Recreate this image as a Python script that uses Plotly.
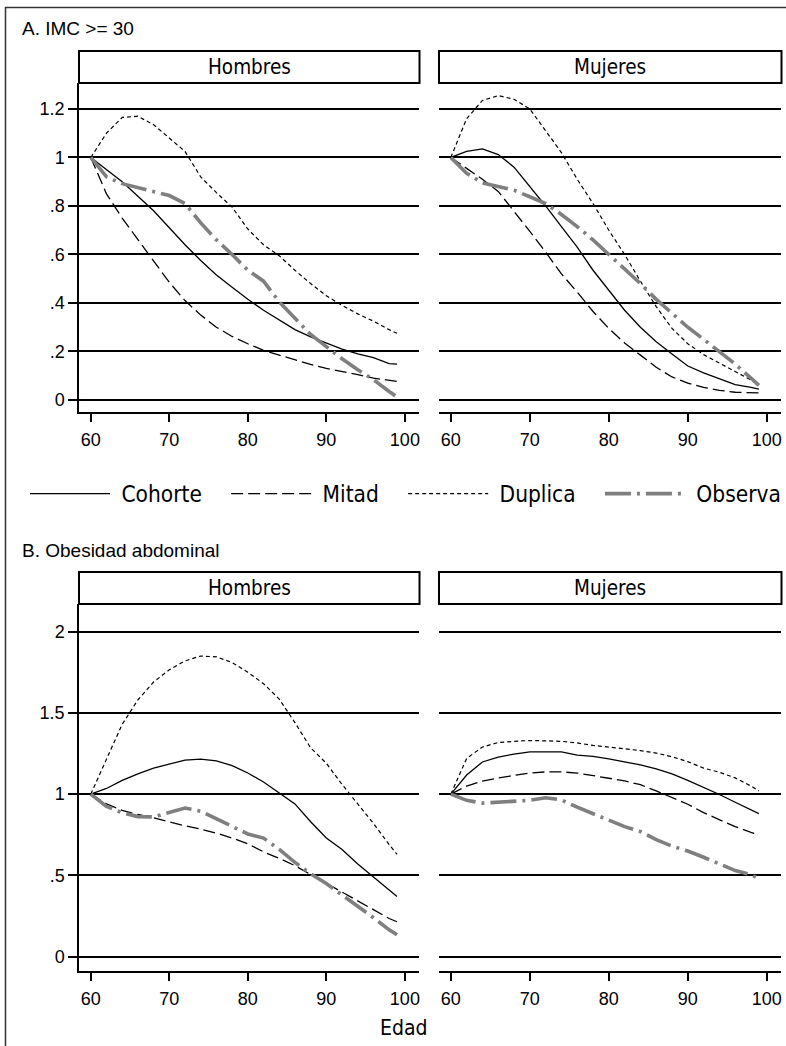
import plotly.graph_objects as go

W, H = 786, 1046

edad = [60, 62, 64, 66, 68, 70, 72, 74, 76, 78, 80, 82, 84, 86, 88, 90, 92, 94, 96, 98, 99]

# Panel A: IMC >= 30
imc_h_cohorte = [1, 0.95, 0.90, 0.84, 0.78, 0.71, 0.64, 0.575, 0.515, 0.465, 0.415, 0.37, 0.33, 0.29, 0.26, 0.235, 0.21, 0.19, 0.175, 0.15, 0.148]
imc_h_mitad = [1, 0.85, 0.75, 0.66, 0.575, 0.485, 0.41, 0.35, 0.30, 0.262, 0.232, 0.205, 0.185, 0.165, 0.147, 0.13, 0.118, 0.105, 0.09, 0.08, 0.077]
imc_h_duplica = [1, 1.10, 1.165, 1.17, 1.135, 1.08, 1.025, 0.92, 0.855, 0.795, 0.705, 0.64, 0.595, 0.535, 0.48, 0.43, 0.39, 0.355, 0.325, 0.29, 0.275]
imc_h_observa = [1, 0.92, 0.892, 0.876, 0.86, 0.843, 0.81, 0.73, 0.66, 0.6, 0.535, 0.49, 0.405, 0.34, 0.27, 0.22, 0.17, 0.125, 0.084, 0.035, 0.012]

imc_m_cohorte = [1, 1.025, 1.035, 1.012, 0.96, 0.88, 0.80, 0.715, 0.63, 0.535, 0.45, 0.37, 0.30, 0.24, 0.19, 0.14, 0.112, 0.088, 0.063, 0.052, 0.045]
imc_m_mitad = [1, 0.955, 0.91, 0.86, 0.775, 0.695, 0.61, 0.52, 0.445, 0.365, 0.295, 0.235, 0.185, 0.135, 0.095, 0.07, 0.052, 0.04, 0.032, 0.03, 0.029]
imc_m_duplica = [1, 1.16, 1.235, 1.255, 1.24, 1.2, 1.11, 1.02, 0.91, 0.81, 0.70, 0.60, 0.49, 0.385, 0.295, 0.232, 0.187, 0.152, 0.12, 0.085, 0.065]
imc_m_observa = [1, 0.935, 0.895, 0.88, 0.865, 0.838, 0.81, 0.765, 0.715, 0.66, 0.6, 0.545, 0.48, 0.415, 0.355, 0.3, 0.25, 0.2, 0.148, 0.09, 0.06]

# Panel B: Obesidad abdominal
abd_h_cohorte = [1, 1.035, 1.085, 1.125, 1.16, 1.185, 1.21, 1.215, 1.205, 1.175, 1.13, 1.075, 1.01, 0.94, 0.83, 0.73, 0.66, 0.57, 0.49, 0.41, 0.37]
abd_h_mitad = [1, 0.94, 0.9, 0.875, 0.855, 0.83, 0.805, 0.785, 0.76, 0.73, 0.695, 0.645, 0.605, 0.56, 0.505, 0.455, 0.40, 0.34, 0.285, 0.235, 0.215]
abd_h_duplica = [1, 1.21, 1.43, 1.58, 1.69, 1.765, 1.82, 1.85, 1.845, 1.81, 1.75, 1.68, 1.585, 1.44, 1.285, 1.19, 1.06, 0.94, 0.82, 0.69, 0.63]
abd_h_observa = [1, 0.925, 0.885, 0.862, 0.86, 0.885, 0.915, 0.895, 0.85, 0.80, 0.755, 0.73, 0.66, 0.58, 0.51, 0.45, 0.38, 0.315, 0.24, 0.165, 0.135]

abd_m_cohorte = [1, 1.118, 1.198, 1.228, 1.247, 1.26, 1.26, 1.26, 1.24, 1.232, 1.217, 1.2, 1.18, 1.155, 1.125, 1.085, 1.043, 0.998, 0.95, 0.9, 0.88]
abd_m_mitad = [1, 1.05, 1.08, 1.1, 1.115, 1.13, 1.137, 1.137, 1.13, 1.112, 1.098, 1.082, 1.058, 1.02, 0.98, 0.938, 0.886, 0.843, 0.80, 0.765, 0.75]
abd_m_duplica = [1, 1.22, 1.29, 1.318, 1.325, 1.33, 1.328, 1.325, 1.315, 1.30, 1.29, 1.28, 1.268, 1.253, 1.23, 1.2, 1.16, 1.135, 1.10, 1.05, 1.02]
abd_m_observa = [1, 0.962, 0.945, 0.952, 0.958, 0.962, 0.978, 0.965, 0.92, 0.88, 0.835, 0.8, 0.77, 0.72, 0.68, 0.65, 0.612, 0.568, 0.53, 0.505, 0.48]

series_names = ["Cohorte", "Mitad", "Duplica", "Observa"]
xticks = [60, 70, 80, 90, 100]
yticks_a = [0, 0.2, 0.4, 0.6, 0.8, 1, 1.2]
yticklabels_a = ["0", ".2", ".4", ".6", ".8", "1", "1.2"]
yticks_b = [0, 0.5, 1, 1.5, 2]
yticklabels_b = ["0", ".5", "1", "1.5", "2"]
panel_titles = ["A. IMC >= 30", "B. Obesidad abdominal"]
strip_labels = ["Hombres", "Mujeres"]
xlabel = "Edad"

styles = {
    "Cohorte": dict(color="black", width=1.3, dash="solid"),
    "Mitad": dict(color="black", width=1.3, dash="12px,5px"),
    "Duplica": dict(color="black", width=1.2, dash="4px,3px"),
    "Observa": dict(color="#7f7f7f", width=3.6, dash="26px,6px,3px,6px"),
}

panels = [
    ("x", "y", [imc_h_cohorte, imc_h_mitad, imc_h_duplica, imc_h_observa], True),
    ("x2", "y2", [imc_m_cohorte, imc_m_mitad, imc_m_duplica, imc_m_observa], False),
    ("x3", "y3", [abd_h_cohorte, abd_h_mitad, abd_h_duplica, abd_h_observa], False),
    ("x4", "y4", [abd_m_cohorte, abd_m_mitad, abd_m_duplica, abd_m_observa], False),
]

NBSP = "\u00a0"
fig = go.Figure()
for xa, ya, data, show in panels:
    for i, (name, vals) in enumerate(zip(series_names, data)):
        trail = NBSP * 3 if i < len(series_names) - 1 else ""
        fig.add_trace(go.Scatter(
            x=edad, y=vals, mode="lines", name=NBSP + name + trail,
            xaxis=xa, yaxis=ya,
            line=styles[name], showlegend=show, hoverinfo="skip"))


def px(p):
    return p / W


def py(p):
    return 1 - p / H


TICKF = dict(family="Liberation Sans, Arial, sans-serif", size=18, color="black")
COND = "DejaVu Sans Condensed, Liberation Sans Narrow, sans-serif"

xcommon = dict(range=[58.5, 101.8], tickvals=xticks, ticks="outside", ticklen=8,
               tickwidth=1.5, tickcolor="black", showline=True, linecolor="black",
               linewidth=1.5, showgrid=False, zeroline=False, tickfont=TICKF,
               ticklabelstandoff=3, fixedrange=True)
ycommon = dict(showgrid=True, gridcolor="black", gridwidth=1.6, zeroline=False,
               tickfont=TICKF, fixedrange=True)

xd_h = [px(79), px(419)]
xd_m = [px(439), px(781)]
yd_a = [py(412), py(83)]
yd_b = [py(971), py(604)]
yr_a = [-0.0495, 1.307]
yr_b = [-0.088, 2.17]

layout = dict(
    width=W, height=H, margin=dict(l=0, r=0, t=0, b=0),
    paper_bgcolor="white", plot_bgcolor="white",
    xaxis=dict(domain=xd_h, anchor="y", **xcommon),
    xaxis2=dict(domain=xd_m, anchor="y2", **xcommon),
    xaxis3=dict(domain=xd_h, anchor="y3", **xcommon),
    xaxis4=dict(domain=xd_m, anchor="y4", **xcommon),
    yaxis=dict(domain=yd_a, anchor="x", range=yr_a, tickvals=yticks_a, ticktext=yticklabels_a,
               ticks="outside", ticklen=9, tickwidth=1.5, tickcolor="black",
               showline=True, linecolor="black", linewidth=1.5, **ycommon),
    yaxis2=dict(domain=yd_a, anchor="x2", range=yr_a, tickvals=yticks_a,
                showticklabels=False, ticks="", showline=False, **ycommon),
    yaxis3=dict(domain=yd_b, anchor="x3", range=yr_b, tickvals=yticks_b, ticktext=yticklabels_b,
                ticks="outside", ticklen=9, tickwidth=1.5, tickcolor="black",
                showline=True, linecolor="black", linewidth=1.5, **ycommon),
    yaxis4=dict(domain=yd_b, anchor="x4", range=yr_b, tickvals=yticks_b,
                showticklabels=False, ticks="", showline=False, **ycommon),
    legend=dict(orientation="h", x=px(27), xanchor="left", y=py(494), yanchor="middle",
                font=dict(family=COND, size=22.5, color="black"), itemwidth=80,
                bgcolor="rgba(0,0,0,0)", traceorder="normal"),
    showlegend=True,
)
fig.update_layout(**layout)

shapes = []
annotations = []
# outer frame
shapes.append(dict(type="rect", xref="paper", yref="paper", x0=px(5.5), x1=1.05,
                   y0=-0.05, y1=py(7.5), line=dict(color="#333", width=1.5), layer="below"))
# strips
for (top, bot) in [(51, 83), (572, 604)]:
    for (l, r), lab in zip([(79, 419.5), (439, 781.5)], strip_labels):
        shapes.append(dict(type="rect", xref="paper", yref="paper", x0=px(l), x1=px(r),
                           y0=py(bot), y1=py(top), line=dict(color="black", width=2),
                           fillcolor="white"))
        annotations.append(dict(text=lab, xref="paper", yref="paper", x=px((l + r) / 2),
                                y=py((top + bot) / 2), showarrow=False, xanchor="center",
                                yanchor="middle",
                                font=dict(family=COND, size=20.5, color="black")))
# panel titles
for t, yy in zip(panel_titles, [29, 550]):
    annotations.append(dict(text=t, xref="paper", yref="paper", x=px(20), y=py(yy),
                            showarrow=False, xanchor="left", yanchor="middle",
                            font=dict(family="Liberation Sans, Arial, sans-serif", size=19,
                                      color="black")))
annotations.append(dict(text=xlabel, xref="paper", yref="paper", x=px(404), y=py(1028),
                        showarrow=False, xanchor="center", yanchor="middle",
                        font=dict(family=COND, size=21, color="black")))

fig.update_layout(shapes=shapes, annotations=annotations)
fig.write_html("out.html")
